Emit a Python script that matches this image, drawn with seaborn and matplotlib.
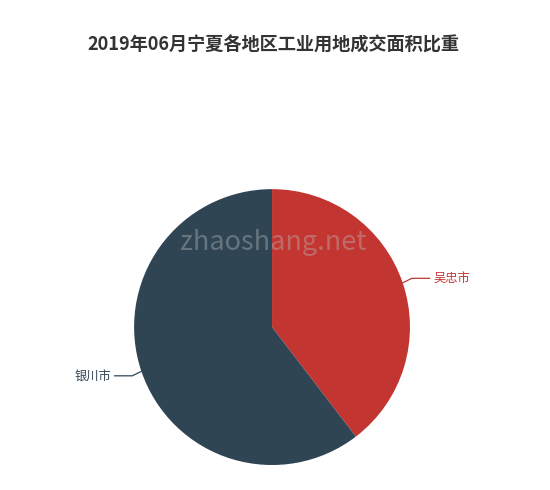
import numpy as np
import matplotlib
matplotlib.use("Agg")
import matplotlib.pyplot as plt
import seaborn as sns

regions = ["吴忠市", "银川市"]
shares = [39.6, 60.4]
colors = ["#c23531", "#2f4554"]
title = "2019年06月宁夏各地区工业用地成交面积比重"
watermark = "zhaoshang.net"

sns.set_theme(style="white")
plt.rcParams['font.family'] = ['Noto Sans CJK SC', 'DejaVu Sans']

fig = plt.figure(figsize=(5.5, 4.9), dpi=100)
fig.patch.set_facecolor("white")
ax = fig.add_axes([0.2436, 0.0510, 0.502, 0.563])
wedges, _ = ax.pie(shares, colors=colors, startangle=90, counterclock=False,
                   radius=1.0, wedgeprops=dict(linewidth=0))
ax.set_xlim(-1, 1)
ax.set_ylim(-1, 1)
ax.set_aspect("equal")
ax.axis("off")

for w, lab, col in zip(wedges, regions, colors):
    ang = np.deg2rad((w.theta1 + w.theta2) / 2)
    x0, y0 = np.cos(ang), np.sin(ang)
    x1, y1 = 1.07 * x0, 1.07 * y0 + 0.01 * np.sign(y0)
    sgn = np.sign(x0)
    x2 = x1 + sgn * 0.13
    ax.plot([x0, x1, x2], [y0, y1, y1], color=col, lw=0.9, clip_on=False)
    ax.text(x2 + sgn * 0.025, y1, lab, color=col, fontsize=8.8,
            ha="left" if sgn > 0 else "right", va="center", clip_on=False)

fig.text(0.497, 1 - 45 / 490, title, ha="center", va="center",
         fontsize=13.1, fontweight="bold", color="#333333")
fig.text(0.497, 1 - 242 / 490, watermark, ha="center", va="center",
         fontsize=19.5, color="#bbbbbb", alpha=0.4)

fig.savefig("out.png", dpi=100, facecolor="white")
